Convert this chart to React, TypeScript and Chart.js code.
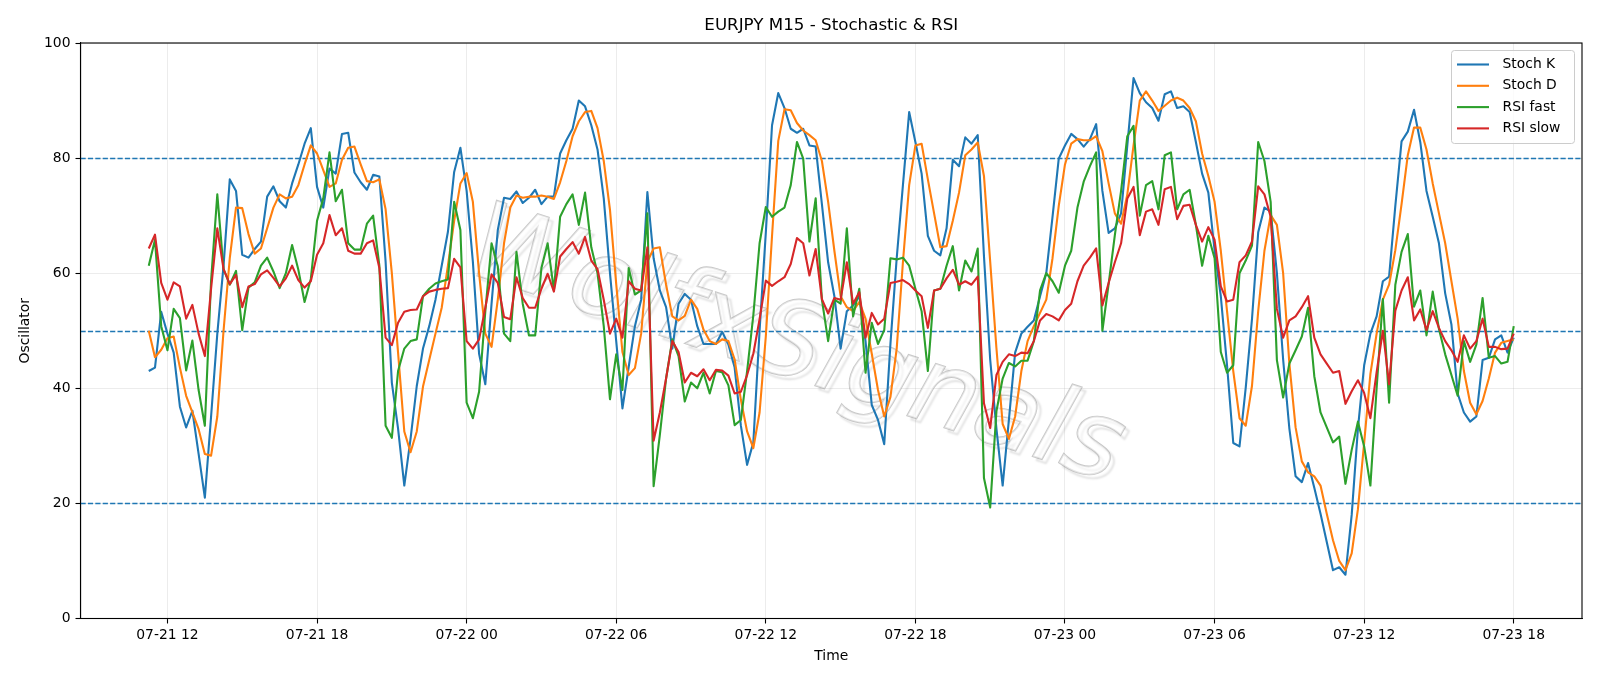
import React, { useEffect, useRef } from "react";
import { Chart, registerables } from "chart.js";

Chart.register(...registerables);

// ---- data (M15 bars, first bar 07-21 11:15, last bar 07-23 18:00) ----
const barCount = 220;
const xTickIndex = [3, 27, 51, 75, 99, 123, 147, 171, 195, 219];
const xTickLabels = ["07-21 12", "07-21 18", "07-22 00", "07-22 06", "07-22 12", "07-22 18", "07-23 00", "07-23 06", "07-23 12", "07-23 18"];
const yTicks = [0, 20, 40, 60, 80, 100];
const refLevels = [80, 50, 20];

const stochK = [
  43.0, 43.6, 53.3, 49.5, 46.2, 36.8, 33.2, 36.1, 28.6, 21.0,
  35.1, 49.5, 61.3, 76.3, 74.3, 63.2, 62.7, 64.2, 65.5, 73.3,
  75.1, 72.5, 71.4, 75.6, 78.9, 82.5, 85.2, 75.0, 71.4, 78.2,
  77.3, 84.2, 84.4, 77.5, 75.8, 74.5, 77.1, 76.8, 62.0, 41.0,
  33.0, 23.1, 31.2, 40.4, 46.9, 50.8, 55.4, 61.3, 67.2, 77.6,
  81.8, 74.3, 62.0, 46.0, 40.7, 54.7, 67.5, 73.1, 72.9, 74.2,
  72.2, 73.1, 74.5, 72.0, 73.3, 73.3, 80.8, 83.1, 85.1, 90.0,
  89.0, 85.7, 81.5, 73.0, 60.0, 48.2, 36.5, 43.7, 50.8, 55.4,
  74.1, 62.6, 57.0, 54.1, 46.9, 54.7, 56.4, 55.4, 50.8, 47.7,
  47.7, 47.7, 49.8, 47.6, 43.6, 33.5, 26.7, 30.6, 50.0, 67.0,
  85.7, 91.3, 88.7, 85.1, 84.4, 85.1, 82.2, 82.0, 72.0, 61.9,
  56.0, 46.9, 53.4, 54.4, 56.0, 48.2, 37.1, 34.5, 30.3, 47.8,
  62.6, 75.3, 88.0, 82.8, 77.3, 66.5, 63.9, 63.1, 67.8, 79.7,
  78.6, 83.6, 82.5, 84.0, 63.0, 45.0, 33.0, 23.1, 34.5, 46.2,
  49.5, 50.7, 51.8, 56.0, 60.0, 69.8, 79.9, 82.2, 84.2, 83.3,
  82.0, 83.3, 85.9, 74.3, 67.0, 67.8, 70.4, 82.2, 93.9, 91.3,
  89.7, 88.7, 86.5, 91.1, 91.6, 88.7, 89.0, 88.0, 82.8, 77.3,
  74.0, 64.0, 56.0, 44.0, 30.5, 29.9, 40.1, 52.0, 67.1, 71.4,
  70.7, 60.0, 45.0, 33.0, 24.7, 23.7, 27.0, 22.7, 18.2, 13.3,
  8.4, 8.9, 7.6, 18.0, 33.0, 44.0, 49.5, 52.5, 58.6, 59.4,
  71.7, 82.9, 84.6, 88.4, 82.8, 74.3, 69.8, 65.2, 56.5, 51.1,
  39.1, 35.8, 34.2, 35.1, 44.9, 45.3, 48.5, 49.2, 46.2, 48.8,
];

const stochD = [
  50.0, 45.4, 46.7, 48.7, 49.0, 43.6, 38.7, 35.8, 32.9, 28.6,
  28.3, 35.1, 50.0, 62.6, 71.4, 71.3, 66.8, 63.4, 64.3, 67.8,
  71.4, 73.7, 73.0, 73.3, 75.3, 78.9, 82.2, 80.8, 77.9, 75.0,
  75.6, 79.7, 81.8, 82.0, 78.9, 76.0, 75.8, 76.3, 71.1, 60.0,
  46.2, 32.5, 28.9, 32.5, 40.3, 44.9, 49.5, 54.0, 61.3, 69.1,
  75.6, 77.4, 72.4, 60.0, 49.5, 47.2, 55.4, 65.2, 71.4, 73.5,
  73.1, 73.3, 73.3, 73.5, 73.3, 72.9, 75.8, 79.5, 83.8, 86.4,
  88.0, 88.2, 85.2, 79.5, 71.0, 58.1, 46.3, 42.3, 43.5, 49.5,
  62.0, 64.3, 64.5, 58.0, 52.5, 51.8, 52.6, 55.4, 53.8, 50.2,
  48.2, 47.7, 48.5, 48.2, 45.0, 38.0, 32.5, 29.6, 35.8, 49.0,
  66.5, 83.0, 88.5, 88.3, 86.1, 84.8, 84.0, 83.1, 79.5, 72.4,
  63.9, 56.0, 54.1, 53.4, 55.0, 52.1, 46.0, 39.7, 35.1, 38.5,
  46.9, 61.9, 75.3, 82.2, 82.5, 76.3, 70.4, 64.5, 64.7, 69.1,
  74.0, 80.5, 81.5, 82.7, 76.9, 62.0, 47.0, 33.8, 31.2, 35.1,
  43.0, 48.2, 50.8, 53.1, 55.4, 62.6, 71.7, 78.9, 82.5, 83.3,
  83.1, 83.1, 83.8, 81.2, 75.6, 70.4, 68.6, 73.7, 82.2, 90.0,
  91.6, 90.0, 88.2, 89.1, 90.0, 90.5, 90.0, 88.7, 86.4, 80.8,
  76.9, 72.4, 63.9, 53.4, 43.0, 34.8, 33.5, 40.4, 53.4, 63.9,
  70.1, 68.4, 60.0, 44.3, 33.2, 27.3, 25.4, 24.7, 23.1, 18.2,
  13.6, 10.0, 8.4, 11.3, 19.0, 30.5, 42.5, 49.5, 55.4, 58.0,
  64.0, 72.0, 80.5, 85.3, 85.3, 81.5, 75.6, 70.4, 65.2, 58.6,
  52.1, 43.0, 37.5, 35.5, 37.8, 41.7, 46.2, 47.9, 48.2, 48.5,
];

const rsiFast = [
  61.3, 65.8, 50.8, 46.6, 53.8, 52.2, 43.1, 48.3, 39.7, 33.5,
  58.7, 73.7, 60.7, 58.0, 60.4, 50.1, 57.5, 58.4, 61.3, 62.7,
  60.3, 57.4, 60.0, 64.9, 60.6, 55.0, 59.0, 69.1, 73.0, 81.0,
  72.5, 74.5, 65.2, 64.1, 64.1, 68.6, 70.0, 61.3, 33.5, 31.4,
  43.0, 46.9, 48.2, 48.5, 56.0, 57.3, 58.2, 58.6, 58.9, 72.4,
  67.5, 37.5, 34.8, 39.4, 53.4, 65.2, 61.2, 49.5, 48.2, 63.7,
  54.7, 49.2, 49.2, 60.9, 65.2, 57.0, 69.8, 72.0, 73.7, 68.4,
  74.0, 64.5, 60.0, 50.8, 38.1, 45.9, 39.7, 60.9, 56.3, 57.0,
  70.4, 23.0, 31.9, 41.7, 48.5, 45.6, 37.7, 41.0, 40.0, 42.7,
  39.1, 43.0, 42.8, 40.5, 33.6, 34.5, 43.0, 52.7, 65.2, 71.5,
  69.8, 70.7, 71.4, 75.3, 82.8, 79.9, 65.5, 73.0, 55.4, 48.2,
  55.4, 54.7, 67.8, 52.5, 57.3, 42.7, 51.4, 47.7, 50.1, 62.6,
  62.4, 62.7, 61.3, 57.3, 53.4, 43.0, 57.0, 57.3, 61.3, 64.7,
  57.0, 62.2, 60.3, 64.3, 24.4, 19.3, 36.0, 41.7, 44.4, 43.8,
  44.8, 44.8, 48.2, 57.0, 60.0, 58.6, 56.6, 61.3, 63.9, 71.4,
  75.9, 78.6, 81.0, 50.0, 58.1, 66.6, 74.3, 83.8, 85.6, 70.0,
  75.3, 76.0, 71.1, 80.5, 81.0, 71.1, 73.7, 74.5, 68.4, 61.3,
  66.5, 62.6, 46.3, 42.7, 44.0, 60.0, 62.2, 64.8, 82.8, 79.5,
  72.4, 44.9, 38.4, 44.3, 46.6, 49.0, 54.0, 42.1, 35.8, 33.2,
  30.6, 31.6, 23.4, 29.3, 34.2, 29.9, 23.1, 40.0, 55.5, 37.5,
  58.0, 63.7, 66.8, 54.2, 57.0, 49.2, 56.8, 50.3, 45.9, 42.3,
  38.7, 48.2, 44.6, 47.6, 55.7, 45.3, 45.6, 44.3, 44.6, 50.8,
];

const rsiSlow = [
  64.3, 66.7, 58.3, 55.4, 58.4, 57.7, 52.1, 54.5, 49.5, 45.6,
  57.3, 67.8, 60.7, 58.1, 59.7, 54.1, 57.7, 58.1, 59.8, 60.5,
  59.2, 57.7, 59.1, 61.3, 58.8, 57.5, 58.6, 63.2, 65.2, 70.1,
  66.6, 67.8, 63.9, 63.4, 63.4, 65.2, 65.7, 60.9, 48.8, 47.5,
  51.4, 53.3, 53.6, 53.7, 56.0, 56.8, 57.1, 57.3, 57.4, 62.5,
  61.0, 48.2, 46.9, 48.5, 54.0, 59.8, 58.3, 52.4, 52.0, 59.3,
  55.7, 54.0, 54.0, 57.3, 59.9, 56.8, 62.9, 64.2, 65.4, 63.4,
  66.3, 62.2, 60.7, 55.4, 49.5, 52.1, 48.8, 58.6, 57.3, 57.0,
  64.5, 30.9, 35.8, 41.7, 48.2, 46.3, 41.0, 42.7, 42.1, 43.3,
  41.4, 43.2, 43.1, 42.2, 39.1, 39.4, 42.3, 46.0, 52.0, 58.7,
  57.8, 58.6, 59.3, 61.6, 66.1, 65.2, 59.6, 64.2, 55.5, 53.0,
  55.7, 55.4, 61.9, 54.7, 56.7, 48.8, 53.1, 51.1, 52.1, 58.3,
  58.5, 58.8, 58.1, 57.0, 56.0, 50.5, 57.0, 57.3, 59.1, 60.6,
  58.0, 58.6, 58.0, 59.4, 37.4, 33.1, 42.3, 44.6, 45.9, 45.6,
  46.2, 46.1, 48.2, 51.8, 52.9, 52.5, 51.8, 53.6, 54.7, 58.6,
  61.3, 62.7, 64.3, 54.4, 58.3, 61.9, 65.2, 73.0, 75.0, 66.6,
  70.7, 71.1, 68.4, 74.6, 75.0, 69.4, 71.7, 71.9, 68.4, 65.5,
  68.0, 65.8, 57.7, 55.1, 55.4, 61.9, 63.1, 65.5, 75.1, 73.7,
  69.8, 53.8, 48.8, 51.8, 52.5, 54.1, 56.0, 48.8, 45.9, 44.3,
  42.7, 43.0, 37.3, 39.5, 41.4, 39.2, 34.8, 42.8, 50.0, 40.7,
  53.5, 57.0, 59.3, 51.8, 53.7, 50.1, 53.4, 50.5, 48.2, 46.6,
  44.6, 49.2, 46.9, 48.2, 52.1, 47.2, 47.2, 46.8, 46.9, 49.5,
];

const seriesNames = ["Stoch K", "Stoch D", "RSI fast", "RSI slow"];
const seriesValues = [stochK, stochD, rsiFast, rsiSlow];
const seriesColors = ["#1f77b4", "#ff7f0e", "#2ca02c", "#d62728"];
const chartTitle = "EURJPY M15 - Stochastic & RSI";
const xTitle = "Time";
const yTitle = "Oscillator";
const watermarkText = "WolfxSignals";

const FONT = "DejaVu Sans";
const xPad = (barCount - 1) * 0.05;

const decorPlugin = {
  id: "decor",
  beforeDraw(chart: any) {
    const { ctx, width, height } = chart;
    ctx.save();
    ctx.fillStyle = "#ffffff";
    ctx.fillRect(0, 0, width, height);
    ctx.restore();
  },
  beforeDatasetsDraw(chart: any) {
    const { ctx, chartArea, scales } = chart;
    // watermark
    ctx.save();
    ctx.beginPath();
    ctx.rect(chartArea.left, chartArea.top, chartArea.right - chartArea.left, chartArea.bottom - chartArea.top);
    ctx.clip();
    ctx.translate(795, 350);
    ctx.rotate((18 * Math.PI) / 180);
    ctx.font = `italic 106px ${FONT}`;
    ctx.textAlign = "center";
    ctx.textBaseline = "middle";
    ctx.shadowColor = "rgba(0,0,0,0.25)";
    ctx.shadowBlur = 2;
    ctx.shadowOffsetX = 4;
    ctx.shadowOffsetY = 4;
    ctx.lineWidth = 1.8;
    ctx.strokeStyle = "rgba(145,145,145,0.5)";
    ctx.strokeText(watermarkText, 0, 0);
    ctx.shadowColor = "rgba(0,0,0,0)";
    ctx.fillStyle = "rgba(255,255,255,0.55)";
    ctx.fillText(watermarkText, 0, 0);
    ctx.restore();
    // reference lines
    ctx.save();
    ctx.strokeStyle = "#1f77b4";
    ctx.lineWidth = 1.4;
    ctx.setLineDash([5.2, 2.2]);
    for (const lv of refLevels) {
      const y = Math.round(scales.y.getPixelForValue(lv)) + 0.5;
      ctx.beginPath();
      ctx.moveTo(chartArea.left, y);
      ctx.lineTo(chartArea.right, y);
      ctx.stroke();
    }
    ctx.restore();
  },
  afterDatasetsDraw(chart: any) {
    const { ctx, chartArea } = chart;
    ctx.save();
    ctx.strokeStyle = "#000";
    ctx.lineWidth = 1.1;
    ctx.strokeRect(chartArea.left, chartArea.top, chartArea.right - chartArea.left, chartArea.bottom - chartArea.top);
    ctx.restore();
  },
  afterDraw(chart: any) {
    const { ctx, chartArea } = chart;
    // title
    ctx.save();
    ctx.fillStyle = "#000";
    ctx.font = `16.7px ${FONT}`;
    ctx.textAlign = "center";
    ctx.textBaseline = "middle";
    ctx.fillText(chartTitle, (chartArea.left + chartArea.right) / 2, 26);
    ctx.restore();
    // legend
    const bx = 1451.5, by = 50.5, bw = 123, bh = 93;
    ctx.save();
    ctx.beginPath();
    const r = 3;
    ctx.moveTo(bx + r, by);
    ctx.lineTo(bx + bw - r, by);
    ctx.quadraticCurveTo(bx + bw, by, bx + bw, by + r);
    ctx.lineTo(bx + bw, by + bh - r);
    ctx.quadraticCurveTo(bx + bw, by + bh, bx + bw - r, by + bh);
    ctx.lineTo(bx + r, by + bh);
    ctx.quadraticCurveTo(bx, by + bh, bx, by + bh - r);
    ctx.lineTo(bx, by + r);
    ctx.quadraticCurveTo(bx, by, bx + r, by);
    ctx.closePath();
    ctx.fillStyle = "rgba(255,255,255,0.8)";
    ctx.fill();
    ctx.strokeStyle = "#cccccc";
    ctx.lineWidth = 1;
    ctx.stroke();
    ctx.font = `13.9px ${FONT}`;
    ctx.textBaseline = "middle";
    ctx.textAlign = "left";
    chart.data.datasets.forEach((ds: any, k: number) => {
      const y = 64.5 + k * 21.3;
      ctx.strokeStyle = ds.borderColor;
      ctx.lineWidth = 2.1;
      ctx.beginPath();
      ctx.moveTo(1457, y);
      ctx.lineTo(1489, y);
      ctx.stroke();
      ctx.fillStyle = "#000";
      ctx.fillText(ds.label, 1502.5, y);
    });
    ctx.restore();
  },
};

export default function App() {
  const ref = useRef<HTMLCanvasElement>(null);
  useEffect(() => {
    const datasets = seriesNames.map((name, k) => ({
      label: name,
      data: seriesValues[k].map((v, i) => ({ x: i, y: v })),
      borderColor: seriesColors[k],
      backgroundColor: seriesColors[k],
      borderWidth: 2.1,
      pointRadius: 0,
      pointHoverRadius: 0,
      fill: false,
      tension: 0,
      borderJoinStyle: "round" as const,
      order: seriesNames.length - k,
    }));
    const gridCommon = {
      color: "rgba(176,176,176,0.3)",
      lineWidth: 0.8,
      tickLength: 5,
      tickColor: "#000",
      tickWidth: 1.1,
    };
    const tickFont = { family: FONT, size: 13.9 };
    const chart = new Chart(ref.current as HTMLCanvasElement, {
      type: "line",
      data: { datasets },
      options: {
        animation: false,
        responsive: false,
        devicePixelRatio: 1,
        events: [],
        layout: { padding: { top: 43, right: 18, bottom: 0, left: 0 } },
        plugins: {
          legend: { display: false },
          tooltip: { enabled: false },
          title: { display: false },
        },
        scales: {
          x: {
            type: "linear",
            min: -xPad,
            max: barCount - 1 + xPad,
            afterBuildTicks: (s: any) => {
              s.ticks = xTickIndex.map((v) => ({ value: v }));
            },
            afterFit: (s: any) => {
              s.height = 67.5;
            },
            ticks: {
              autoSkip: false,
              maxRotation: 0,
              minRotation: 0,
              padding: 4,
              color: "#000",
              font: tickFont,
              callback: (v: any) => {
                const k = xTickIndex.indexOf(Number(v));
                return k >= 0 ? xTickLabels[k] : "";
              },
            },
            grid: gridCommon,
            border: { display: true, color: "#000", width: 1.1 },
            title: {
              display: true,
              text: xTitle,
              color: "#000",
              font: { family: FONT, size: 13.9 },
              padding: { top: 0, bottom: 21.7 },
            },
          },
          y: {
            type: "linear",
            min: 0,
            max: 100,
            afterBuildTicks: (s: any) => {
              s.ticks = yTicks.map((v) => ({ value: v }));
            },
            afterFit: (s: any) => {
              s.width = 80.5;
            },
            ticks: { padding: 5, color: "#000", font: tickFont },
            grid: gridCommon,
            border: { display: true, color: "#000", width: 1.1 },
            title: {
              display: true,
              text: yTitle,
              color: "#000",
              font: { family: FONT, size: 13.9 },
              padding: { top: 16.7, bottom: 0 },
            },
          },
        },
      },
      plugins: [decorPlugin],
    } as any);
    return () => chart.destroy();
  }, []);
  return (
    <div style={{ position: "absolute", left: 0, top: 0, width: 1600, height: 686, background: "#fff" }}>
      <canvas ref={ref} width={1600} height={686} style={{ display: "block", width: 1600, height: 686 }} />
    </div>
  );
}
